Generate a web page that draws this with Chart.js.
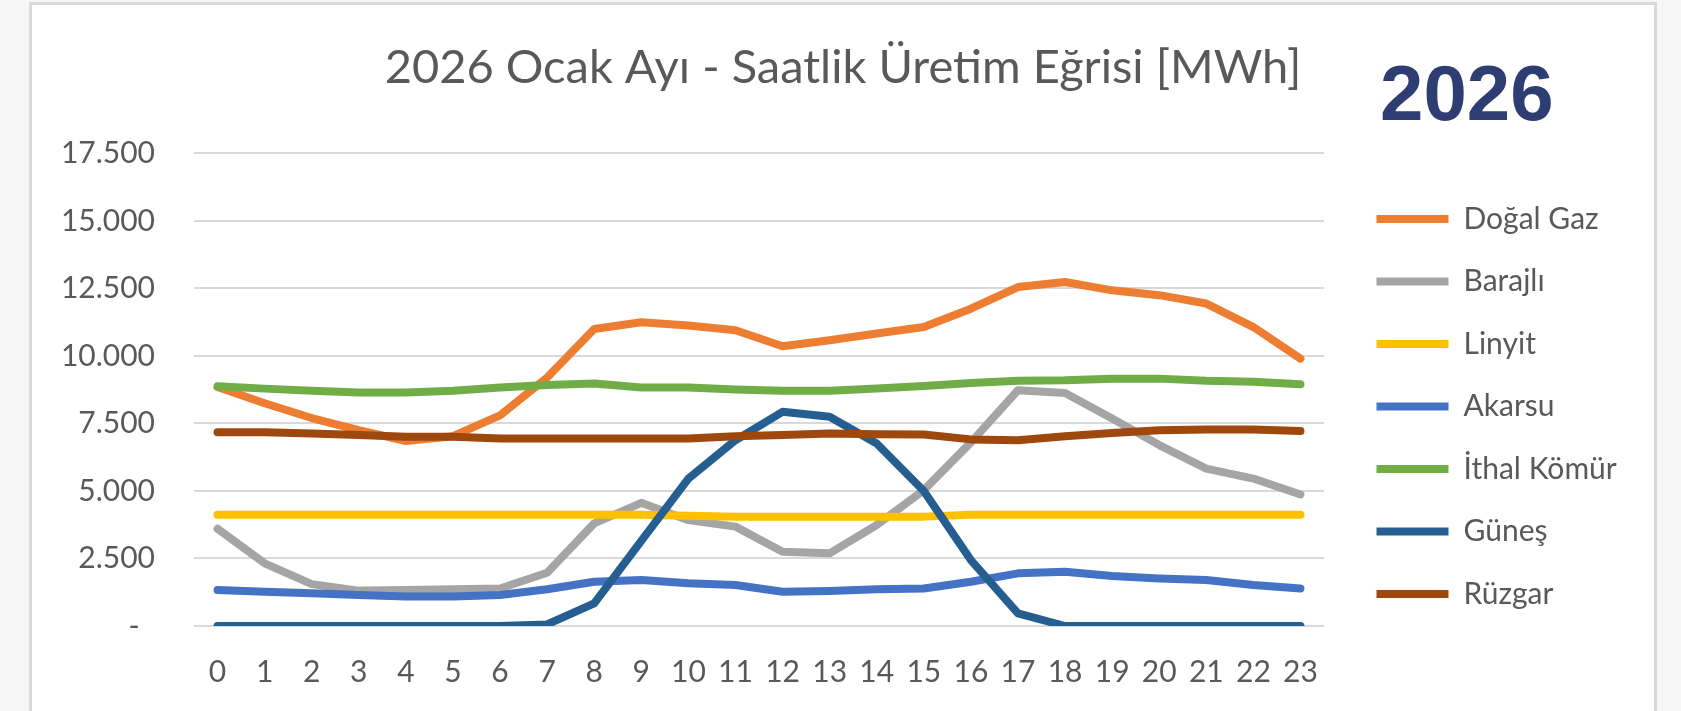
<!DOCTYPE html>
<html lang="tr">
<head>
<meta charset="utf-8">
<title>2026 Ocak Ayı - Saatlik Üretim Eğrisi</title>
<script src="https://cdn.jsdelivr.net/npm/chart.js"></script>
<style>
	html, body { margin: 0; padding: 0; }
	body { width: 1681px; height: 711px; overflow: hidden; background: #f6f6f6; position: relative; }
	#cerceve { position: absolute; left: 29px; top: 2px; width: 1622px; height: 720px; background: #fff; border: 3px solid #d9d9d9; }
	#kutu { position: absolute; left: 31px; top: 5px; width: 1624px; height: 706px; }
	#yil { position: absolute; left: 1380px; top: 54px; font: bold 78px "Liberation Sans", Arial, sans-serif; line-height: 1; color: #2e3d72; }
</style>
</head>
<body>
<div id="cerceve"></div>
<div id="kutu"><canvas id="Grafik"></canvas></div>
<div id="yil">2026</div>

<script>
// saatler ve seriler (MWh)
const saatler = ['0', '1', '2', '3', '4', '5', '6', '7', '8', '9', '10', '11', '12', '13', '14', '15', '16', '17', '18', '19', '20', '21', '22', '23'];

const dogalGaz = [8850, 8250, 7700, 7250, 6850, 7030, 7800, 9200, 11000, 11250, 11130, 10950, 10360, 10580, 10830, 11070, 11750, 12550, 12740, 12430, 12250, 11940, 11070, 9900];
const barajli = [3600, 2320, 1550, 1310, 1330, 1360, 1390, 1970, 3800, 4560, 3920, 3680, 2750, 2690, 3740, 5030, 6800, 8730, 8630, 7680, 6700, 5830, 5460, 4870];
const linyit = [4120, 4120, 4120, 4120, 4120, 4120, 4120, 4120, 4120, 4120, 4080, 4050, 4050, 4050, 4050, 4050, 4120, 4120, 4120, 4120, 4120, 4120, 4120, 4120];
const akarsu = [1330, 1270, 1210, 1150, 1090, 1090, 1150, 1360, 1640, 1700, 1580, 1520, 1270, 1300, 1360, 1390, 1640, 1950, 2010, 1850, 1760, 1700, 1520, 1390];
const ithalKomur = [8880, 8790, 8710, 8650, 8650, 8710, 8830, 8920, 8980, 8830, 8830, 8760, 8710, 8710, 8790, 8890, 9000, 9080, 9100, 9160, 9160, 9080, 9040, 8950];
const gunes = [0, 0, 0, 0, 0, 0, 0, 60, 840, 3150, 5460, 6880, 7930, 7750, 6760, 5000, 2440, 470, 0, 0, 0, 0, 0, 0];
const ruzgar = [7170, 7170, 7130, 7070, 7010, 7010, 6940, 6940, 6940, 6940, 6940, 7030, 7070, 7130, 7100, 7090, 6910, 6880, 7030, 7150, 7250, 7280, 7280, 7220];

const seriAdlari = ['Doğal Gaz', 'Barajlı', 'Linyit', 'Akarsu', 'İthal Kömür', 'Güneş', 'Rüzgar'];
const yTikleri = [0, 2500, 5000, 7500, 10000, 12500, 15000, 17500];
const baslik = '2026 Ocak Ayı - Saatlik Üretim Eğrisi [MWh]';

const seriVerileri = [dogalGaz, barajli, linyit, akarsu, ithalKomur, gunes, ruzgar];
const renkler = ['#ED7D31', '#A5A5A5', '#FFC000', '#4472C4', '#70AD47', '#255E91', '#9E480E'];
const yaziRengi = '#595959';

function binlik(v) {
	if (v === 0) {
		return '-  ';
	}
	return String(v).replace(/\B(?=(\d{3})+(?!\d))/g, '.');
}

// legend kutusunun genisligini sabitle
const legendGenislik = {
	id: 'legendGenislik',
	beforeInit: function (chart) {
		const fit = chart.legend.fit;
		chart.legend.fit = function () {
			fit.call(this);
			this.width = 311;
		};
	}
};

const datasets = seriAdlari.map(function (ad, i) {
	return {
		label: ad,
		data: seriVerileri[i],
		borderColor: renkler[i],
		backgroundColor: renkler[i],
		borderWidth: 8,
		borderCapStyle: 'round',
		borderJoinStyle: 'round',
		pointRadius: 0,
		pointHoverRadius: 0,
		tension: 0,
		fill: false,
		order: seriAdlari.length - i
	};
});

const grafik = new Chart(document.getElementById('Grafik'), {
	type: 'line',
	data: {
		labels: saatler,
		datasets: datasets
	},
	options: {
		animation: false,
		responsive: true,
		maintainAspectRatio: false,
		layout: { padding: 0 },
		plugins: {
			title: {
				display: true,
				text: baslik,
				color: yaziRengi,
				font: { family: 'Lato', size: 47, weight: 'normal' },
				padding: { top: 35, bottom: 57 }
			},
			legend: {
				position: 'right',
				align: 'center',
				fullSize: true,
				title: {
					display: true,
					text: '',
					font: { size: 10 },
					padding: { top: 85, bottom: 0 }
				},
				labels: {
					usePointStyle: true,
					pointStyle: 'line',
					pointStyleWidth: 72,
					padding: 32.5,
					color: yaziRengi,
					font: { family: 'Lato', size: 30 },
					sort: function (a, b) { return a.datasetIndex - b.datasetIndex; }
				}
			},
			tooltip: { enabled: false }
		},
		scales: {
			x: {
				offset: true,
				grid: { display: false, drawTicks: false },
				border: { display: false },
				ticks: {
					color: yaziRengi,
					font: { family: 'Lato', size: 30 },
					padding: 28,
					maxRotation: 0,
					autoSkip: false
				},
				afterFit: function (scale) { scale.height = 85; }
			},
			y: {
				min: yTikleri[0],
				max: yTikleri[yTikleri.length - 1],
				afterBuildTicks: function (scale) {
					scale.ticks = yTikleri.map(function (v) { return { value: v }; });
				},
				ticks: {
					color: yaziRengi,
					font: { family: 'Lato', size: 30 },
					padding: 39,
					callback: binlik
				},
				grid: { color: '#D9D9D9', lineWidth: 2, drawTicks: false },
				border: { display: false },
				afterFit: function (scale) { scale.width = 163; }
			},
			bosluk: {
				type: 'linear',
				position: 'right',
				display: true,
				grid: { display: false, drawTicks: false },
				border: { display: false },
				ticks: { display: false },
				afterFit: function (scale) { scale.width = 20; }
			}
		}
	},
	plugins: [legendGenislik]
});
</script>
</body>
</html>
